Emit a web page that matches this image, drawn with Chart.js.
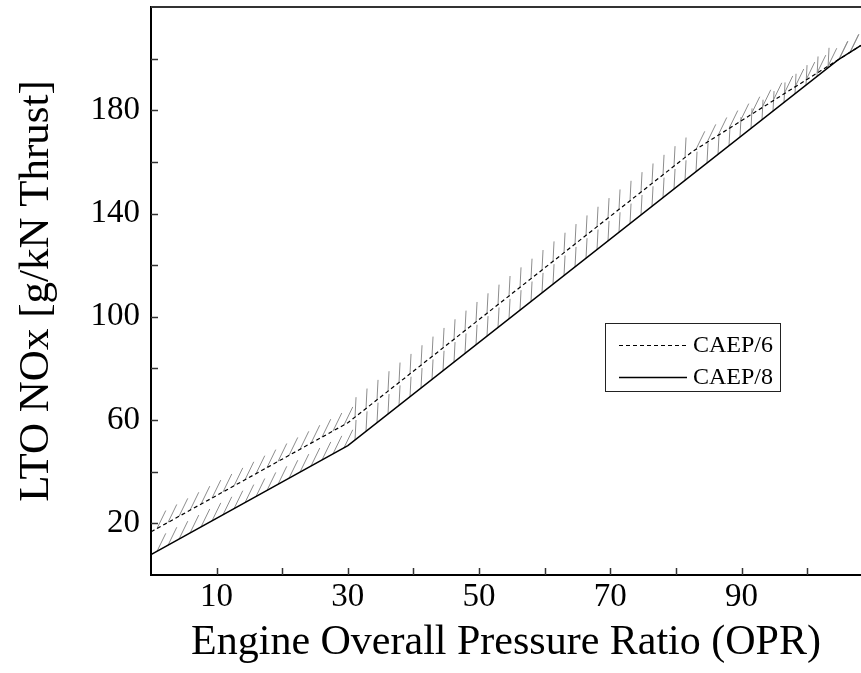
<!DOCTYPE html>
<html>
<head>
<meta charset="utf-8">
<title>LTO NOx vs OPR</title>
<script src="https://cdn.jsdelivr.net/npm/chart.js@4.4.0/dist/chart.umd.min.js"></script>
<style>
    html, body { margin: 0; padding: 0; background: #fff; }
    canvas { display: block; }
</style>
</head>
<body>
<canvas id="noxChart" width="861" height="673"></canvas>
<script>
// Breakpoints of the two standards
const oprCaep6 = [0, 30, 82.6, 108.2];
const noxCaep6 = [16.72, 58.96, 164.16, 205.12];
const oprCaep8 = [0, 30, 104.7, 108.2];
const noxCaep8 = [7.88, 50.12, 199.52, 205.12];

const seriesNames = ['CAEP/6', 'CAEP/8'];

const xTicks = [10, 20, 30, 40, 50, 60, 70, 80, 90, 100];
const xTickLabels = [10, 30, 50, 70, 90];
const yTicks = [20, 40, 60, 80, 100, 120, 140, 160, 180, 200];
const yTickLabels = [20, 60, 100, 140, 180];

const SERIF = "'Liberation Serif', 'Times New Roman', serif";

function toPoints(xs, ys) {
    return xs.map((x, i) => ({ x: x, y: ys[i] }));
}

// short hatch strokes on the upper side of each limit line
const hatchPlugin = {
    id: 'hatch',
    beforeDatasetsDraw(chart) {
        const { ctx, chartArea } = chart;
        ctx.save();
        ctx.beginPath();
        ctx.rect(chartArea.left, chartArea.top, chartArea.width, chartArea.height);
        ctx.clip();
        ctx.strokeStyle = '#8c8c8c';
        ctx.lineWidth = 1;
        chart.data.datasets.forEach((ds, i) => {
            const pts = chart.getDatasetMeta(i).data;
            const angles = ds.hatchAngles;
            let seg = 0;
            for (let px = pts[0].x + 6; px < pts[pts.length - 1].x; px += 11) {
                while (seg < pts.length - 2 && px > pts[seg + 1].x) seg++;
                const a = pts[seg], b = pts[seg + 1];
                const py = a.y + (b.y - a.y) * (px - a.x) / (b.x - a.x);
                const ang = angles[seg] * Math.PI / 180;
                ctx.beginPath();
                ctx.moveTo(px, py);
                ctx.lineTo(px + 20 * Math.cos(ang), py - 20 * Math.sin(ang));
                ctx.stroke();
            }
        });
        ctx.restore();
    }
};

// inward tick marks, top frame line and boxed legend
const framePlugin = {
    id: 'frame',
    afterDraw(chart) {
        const { ctx, chartArea, scales } = chart;
        ctx.save();
        ctx.strokeStyle = '#333';
        ctx.lineWidth = 2;
        ctx.beginPath();
        ctx.moveTo(chartArea.left, chartArea.top);
        ctx.lineTo(chartArea.right, chartArea.top);
        ctx.stroke();

        ctx.lineWidth = 1.5;
        xTicks.forEach(v => {
            const px = Math.round(scales.x.getPixelForValue(v)) + 0.5;
            ctx.beginPath();
            ctx.moveTo(px, chartArea.bottom);
            ctx.lineTo(px, chartArea.bottom - 7);
            ctx.stroke();
        });
        yTicks.forEach(v => {
            const py = Math.round(scales.y.getPixelForValue(v)) + 0.5;
            ctx.beginPath();
            ctx.moveTo(chartArea.left, py);
            ctx.lineTo(chartArea.left + 7, py);
            ctx.stroke();
        });

        // legend
        ctx.lineWidth = 1;
        ctx.strokeStyle = '#222';
        ctx.fillStyle = '#fff';
        ctx.fillRect(605, 323, 175, 68);
        ctx.strokeRect(605.5, 323.5, 175, 68);
        ctx.font = '24px ' + SERIF;
        ctx.textBaseline = 'middle';
        ctx.textAlign = 'left';
        chart.data.datasets.forEach((ds, i) => {
            const y = 345 + i * 32;
            ctx.strokeStyle = ds.borderColor;
            ctx.lineWidth = ds.borderWidth;
            ctx.setLineDash(ds.borderDash || []);
            ctx.beginPath();
            ctx.moveTo(619, y + 0.5);
            ctx.lineTo(687, y + 0.5);
            ctx.stroke();
            ctx.setLineDash([]);
            ctx.fillStyle = '#000';
            ctx.fillText(ds.label, 693, y + 1);
        });
        ctx.restore();
    }
};

function buildChart() {
    const canvas = document.getElementById('noxChart');

    new Chart(canvas, {
        type: 'line',
        data: {
            datasets: [
                {
                    label: seriesNames[0],
                    data: toPoints(oprCaep6, noxCaep6),
                    borderColor: '#000',
                    borderWidth: 1.2,
                    borderDash: [4, 3],
                    pointRadius: 0,
                    tension: 0,
                    hatchAngles: [64, 87, 64]
                },
                {
                    label: seriesNames[1],
                    data: toPoints(oprCaep8, noxCaep8),
                    borderColor: '#000',
                    borderWidth: 1.4,
                    pointRadius: 0,
                    tension: 0,
                    hatchAngles: [64, 87, 64]
                }
            ]
        },
        options: {
            responsive: false,
            animation: false,
            layout: { padding: { top: 7, right: 0, left: 0, bottom: 0 } },
            plugins: {
                legend: { display: false },
                tooltip: { enabled: false }
            },
            scales: {
                x: {
                    type: 'linear',
                    min: 0,
                    max: 108.2,
                    afterFit: scale => {
                        scale.height = 98;
                        scale.paddingLeft = 0;
                        scale.paddingRight = 0;
                    },
                    border: { display: true, color: '#000', width: 2 },
                    grid: { display: true, drawOnChartArea: false, drawTicks: false },
                    ticks: {
                        stepSize: 10,
                        autoSkip: false,
                        maxRotation: 0,
                        padding: 3,
                        color: '#000',
                        font: { family: SERIF, size: 33 },
                        callback: v => xTickLabels.includes(v) ? String(v) : ''
                    },
                    title: {
                        display: true,
                        text: 'Engine Overall Pressure Ratio (OPR)',
                        color: '#000',
                        font: { family: SERIF, size: 42 },
                        padding: { top: 0, bottom: 5 }
                    }
                },
                y: {
                    type: 'linear',
                    min: 0,
                    max: 220,
                    afterFit: scale => {
                        scale.width = 151;
                        scale.paddingTop = 0;
                        scale.paddingBottom = 0;
                    },
                    border: { display: true, color: '#000', width: 2 },
                    grid: { display: true, drawOnChartArea: false, drawTicks: false },
                    ticks: {
                        stepSize: 20,
                        autoSkip: false,
                        padding: 11,
                        color: '#000',
                        font: { family: SERIF, size: 33 },
                        callback: v => yTickLabels.includes(v) ? String(v) : ''
                    },
                    title: {
                        display: true,
                        text: 'LTO NOx [g/kN Thrust]',
                        color: '#000',
                        font: { family: SERIF, size: 43 },
                        padding: { top: 11, bottom: 0 }
                    }
                }
            }
        },
        plugins: [hatchPlugin, framePlugin]
    });
}

buildChart();
</script>
</body>
</html>
